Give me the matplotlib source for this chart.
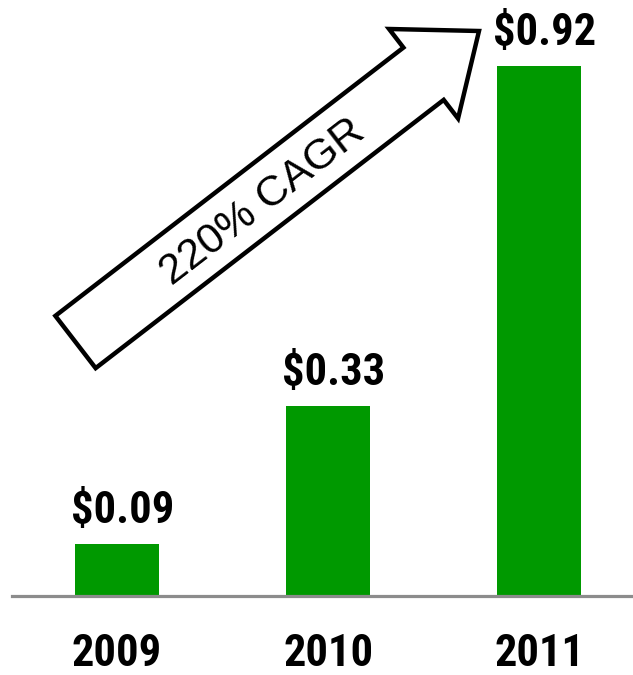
import matplotlib
matplotlib.use("Agg")
import matplotlib.pyplot as plt
from matplotlib.patches import FancyArrow
from matplotlib.transforms import Affine2D

years = ["2009", "2010", "2011"]
values = [0.09, 0.33, 0.92]
value_labels = ["$0.09", "$0.33", "$0.92"]
cagr_label = "220% CAGR"

W, H = 633, 675
fig = plt.figure(figsize=(W / 100, H / 100), dpi=100)
ax = fig.add_axes([0, 0, 1, 1])
ax.set_xlim(-0.555, 2.445)
ax.set_ylim(-0.137, 1.035)
ax.axis("off")

narrow = ["Roboto Condensed", "Liberation Sans", "DejaVu Sans"]
green = "#009900"

x = list(range(len(years)))
ax.bar(x, values, width=0.40, color=green, zorder=2)
ax.axhline(0, xmin=12 / W, xmax=1, color="#8c8c8c", lw=2.3, zorder=3)

for xi, v, lab in zip(x, values, value_labels):
    ax.annotate(lab, (xi, v), xytext=(4, 15), textcoords="offset points",
                ha="center", va="baseline", fontsize=32, fontweight="bold",
                family=narrow, color="black")
for xi, yr in zip(x, years):
    ax.text(xi, -0.1007, yr, ha="center", va="center", fontsize=32,
            fontweight="bold", family=narrow, color="black")

# arrow in pixel coordinates (top-left origin)
pix = Affine2D().scale(1, -1).translate(0, H)
tail = (75.5, 342)
tip = (479, 31)
arr = FancyArrow(tail[0], tail[1], tip[0] - tail[0], tip[1] - tail[1],
                 width=66, head_width=113, head_length=70,
                 length_includes_head=True, facecolor="white",
                 edgecolor="black", linewidth=3.2, joinstyle="miter",
                 transform=pix, zorder=4)
fig.add_artist(arr)
fig.text(263, H - 202, cagr_label, transform=None, ha="center", va="center",
         rotation=37.6, rotation_mode="anchor", fontsize=31,
         family=["Liberation Sans", "DejaVu Sans"], color="black", zorder=5)

fig.savefig("out.png", dpi=100)
